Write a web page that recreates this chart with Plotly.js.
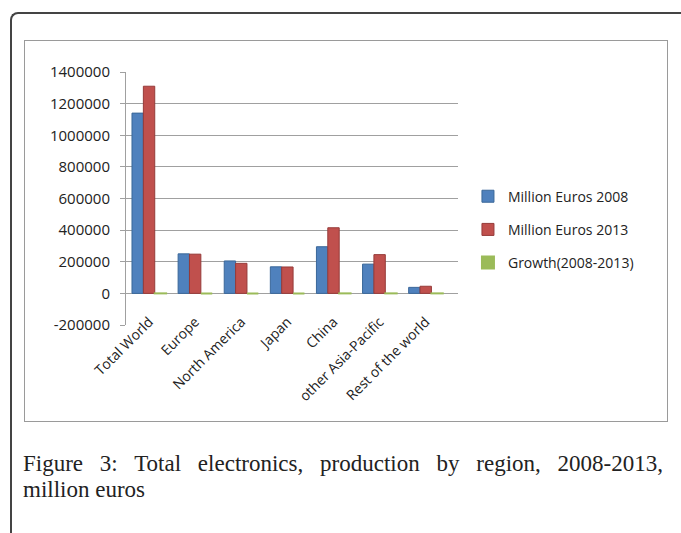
<!DOCTYPE html>
<html>
<head>
<meta charset="utf-8">
<script src="https://cdn.plot.ly/plotly-3.0.1.min.js"></script>
<style>
  html, body { margin: 0; padding: 0; background: #fff; }
  #wrap { position: relative; width: 681px; height: 533px; overflow: hidden; background: #fff; }
  #frame { position: absolute; left: 10px; top: 12px; width: 700px; height: 560px;
           border-left: 2px solid #444; border-top: 2px solid #444; border-top-left-radius: 8px; }
  #box { position: absolute; left: 24px; top: 40px; width: 642px; height: 380px; border: 1px solid #9a9a9a; }
  #chart { position: absolute; left: 0; top: 0; width: 681px; height: 533px; }
  .cap { position: absolute; left: 23px; width: 640px;
         font-family: "Liberation Serif", "DejaVu Serif", serif; font-size: 23px;
         line-height: 26px; color: #222; white-space: nowrap; }
  #cap1 { top: 451px; text-align: justify; text-align-last: justify; white-space: normal; }
  #cap2 { top: 477px; }
</style>
</head>
<body>
<div id="wrap">
  <div id="frame"></div>
  <div id="box"></div>
  <div id="chart"></div>
  <div class="cap" id="cap1">Figure 3: Total electronics, production by region, 2008-2013,</div>
  <div class="cap" id="cap2">million euros</div>
</div>
<script>
const categories = ["Total World", "Europe", "North America", "Japan", "China", "other Asia-Pacific", "Rest of the world"];
const euros2008 = [1140000, 250000, 205000, 168000, 295000, 185000, 38000];
const euros2013 = [1310000, 248000, 190000, 167000, 415000, 245000, 45000];
const growth = [0.15, -0.01, -0.07, 0, 0.41, 0.32, 0.18];
const yTicks = [-200000, 0, 200000, 400000, 600000, 800000, 1000000, 1200000, 1400000];

const font = "Open Sans, Liberation Sans, sans-serif";

const traces = [
  {type: "bar", name: "Million Euros 2008", x: categories, y: euros2008, legendgroup: "a",
   marker: {color: "#4F81BD", line: {color: "#3A6799", width: 1}}},
  {type: "bar", name: "Million Euros 2013", x: categories, y: euros2013, legendgroup: "b",
   marker: {color: "#C0504D", line: {color: "#963B39", width: 1}}},
  {type: "bar", name: "Growth(2008-2013)", x: categories, y: growth, legendgroup: "c",
   marker: {color: "#9BBB59", line: {color: "#9BBB59", width: 2}}}
];

const layout = {
  width: 681, height: 533,
  paper_bgcolor: "rgba(0,0,0,0)", plot_bgcolor: "rgba(0,0,0,0)",
  margin: {l: 126, r: 223, t: 72, b: 208},
  barmode: "group", bargap: 0.26, bargroupgap: 0,
  font: {family: font, size: 14, color: "#222"},
  showlegend: true,
  legend: {x: 1.03, xanchor: "left", y: 0.377, yanchor: "middle",
           traceorder: "grouped", tracegroupgap: 12,
           font: {family: font, size: 14, color: "#222"}, itemwidth: 30},
  xaxis: {type: "category", range: [-0.5, 6.7], tickangle: -45,
          showgrid: false, showline: false, zeroline: false,
          ticks: "", ticklabelstandoff: -15,
          tickfont: {family: font, size: 14, color: "#222"}},
  yaxis: {range: [-200000, 1400000], tickvals: yTicks, ticktext: yTicks.map(String),
          showgrid: true, gridcolor: "#a0a0a0", gridwidth: 1,
          zeroline: true, zerolinecolor: "#a0a0a0", zerolinewidth: 1,
          showline: true, linecolor: "#a0a0a0", linewidth: 1,
          ticks: "outside", ticklen: 5, tickcolor: "#a0a0a0",
          tickfont: {family: font, size: 15, color: "#222"}, ticklabelstandoff: 7}
};

Plotly.newPlot("chart", traces, layout, {displayModeBar: false, staticPlot: true});
</script>
</body>
</html>
